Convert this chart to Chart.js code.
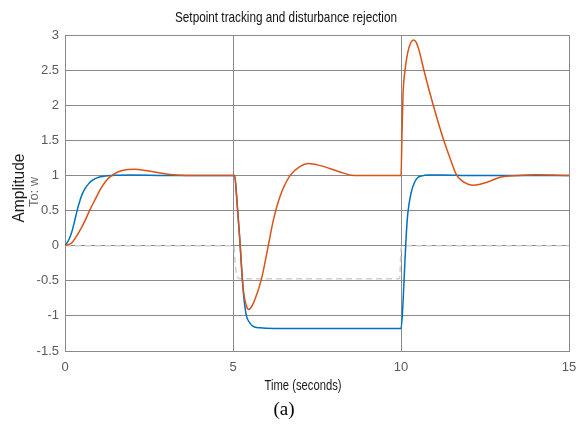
<!DOCTYPE html>
<html>
<head>
<meta charset="utf-8">
<script src="https://cdn.jsdelivr.net/npm/chart.js@4.4.1/dist/chart.umd.min.js"></script>
<style>
  html, body { margin: 0; padding: 0; background: #fff; }
  #wrap { width: 578px; height: 425px; position: relative; }
</style>
</head>
<body>
<div id="wrap"><canvas id="c" width="578" height="425"></canvas></div>
<script>
// ---- Data ----
const chartTitle = "Setpoint tracking and disturbance rejection";
const xLabel = "Time (seconds)";
const yLabel = "Amplitude";
const yLabelSub = "To: w";
const figLabel = "(a)";

const xTicks = [0, 5, 10, 15];
const yTicks = [-1.5, -1, -0.5, 0, 0.5, 1, 1.5, 2, 2.5, 3];

// Blue response
const blueT = [0, 0.1, 0.2, 0.3, 0.4, 0.5, 0.6, 0.7, 0.8, 0.9, 1.0, 1.15, 1.4, 2.0, 3.0, 5.05,
               5.1, 5.2, 5.3, 5.35, 5.4, 5.5, 5.6, 5.8, 6.2, 10.0,
               10.05, 10.1, 10.15, 10.2, 10.3, 10.4, 10.5, 10.6, 10.8, 11.2, 12.0, 15.0];
const blueY = [0, 0.07, 0.19, 0.38, 0.57, 0.72, 0.815, 0.88, 0.925, 0.955, 0.975, 0.99, 1.0, 1.005, 1.0, 1.0,
               0.75, 0.1, -0.62, -0.85, -1.0, -1.1, -1.15, -1.17, -1.18, -1.18,
               -0.9, -0.4, 0.1, 0.45, 0.75, 0.9, 0.97, 0.99, 1.005, 1.005, 1.0, 1.0];

// Orange response
const orangeT = [0, 0.2, 0.45, 0.6, 0.74, 0.9, 1.04, 1.2, 1.34, 1.45, 1.7, 2.08, 2.4, 2.83, 3.3, 3.6, 5.05,
                 5.1, 5.2, 5.3, 5.4, 5.47, 5.55, 5.65, 5.85, 6.05, 6.2, 6.4, 6.7, 7.0, 7.24, 7.6, 8.18, 8.6, 10.0,
                 10.03, 10.06, 10.12, 10.2, 10.3, 10.37, 10.45, 10.55, 10.67, 10.96, 11.26, 11.45, 11.64, 11.8, 12.0, 12.15,
                 12.35, 12.6, 12.95, 13.5, 14.0, 15.0];
const orangeY = [0, 0.04, 0.22, 0.36, 0.51, 0.66, 0.79, 0.91, 0.98, 1.02, 1.07, 1.087, 1.07, 1.035, 1.005, 1.0, 1.0,
                 0.75, 0.1, -0.6, -0.86, -0.91, -0.87, -0.77, -0.47, 0.0, 0.36, 0.7, 1.0, 1.13, 1.17, 1.14, 1.05, 1.0, 1.0,
                 1.6, 2.15, 2.5, 2.75, 2.9, 2.93, 2.9, 2.76, 2.52, 2.0, 1.52, 1.26, 1.02, 0.93, 0.875, 0.862,
                 0.875, 0.91, 0.975, 1.0, 1.01, 1.0];

// Light grey dashed reference
const refT = [0, 5.03, 5.06, 5.1, 5.2, 9.95, 9.98, 10.0, 10.05, 15.0];
const refY = [0, 0, -0.2, -0.4, -0.47, -0.47, -0.3, -0.05, 0, 0];

const toPts = (ts, ys) => ts.map((t, i) => ({ x: t, y: ys[i] }));

const SANS = '"Liberation Sans", Arial, sans-serif';

function fitText(ctx, text, cx, cy, targetW) {
  const w = ctx.measureText(text).width;
  const s = targetW / w;
  ctx.save();
  ctx.translate(cx, cy);
  ctx.scale(s, 1);
  ctx.fillText(text, 0, 0);
  ctx.restore();
}

const textPlugin = {
  id: 'extraText',
  afterDraw(chart) {
    const ctx = chart.ctx;
    ctx.save();
    ctx.textAlign = 'center';
    ctx.textBaseline = 'middle';
    // title
    ctx.fillStyle = '#111';
    ctx.font = '15px ' + SANS;
    fitText(ctx, chartTitle, 286, 18, 222);
    // x label
    ctx.fillStyle = '#1a1a1a';
    ctx.font = '15px ' + SANS;
    fitText(ctx, xLabel, 303, 386, 77);
    // figure label
    ctx.fillStyle = '#000';
    ctx.font = '19px "Liberation Serif", "DejaVu Serif", serif';
    ctx.fillText(figLabel, 284, 410);
    ctx.restore();

    // y labels
    ctx.save();
    ctx.translate(20, 188);
    ctx.rotate(-Math.PI / 2);
    ctx.textAlign = 'center';
    ctx.textBaseline = 'middle';
    ctx.fillStyle = '#1a1a1a';
    ctx.font = '16px ' + SANS;
    fitText(ctx, yLabel, 0, 0, 69);
    ctx.fillStyle = '#666';
    ctx.font = '12px ' + SANS;
    fitText(ctx, yLabelSub, -4, 15, 30);
    ctx.restore();
  }
};

new Chart(document.getElementById('c'), {
  type: 'line',
  data: {
    datasets: [
      { label: 'orange', data: toPts(orangeT, orangeY), borderColor: '#D95319', borderWidth: 1.5,
        pointRadius: 0, cubicInterpolationMode: 'monotone', fill: false, order: 0 },
      { label: 'blue', data: toPts(blueT, blueY), borderColor: '#0072BD', borderWidth: 1.5,
        pointRadius: 0, cubicInterpolationMode: 'monotone', fill: false, order: 1 },
      { label: 'ref', data: toPts(refT, refY), borderColor: '#cfcfcf', borderWidth: 1.5, borderDash: [6, 4],
        pointRadius: 0, cubicInterpolationMode: 'monotone', fill: false, order: 2 }
    ]
  },
  options: {
    responsive: false,
    animation: false,
    events: [],
    layout: { padding: { left: 0, right: 9, top: 35, bottom: 0 } },
    plugins: {
      legend: { display: false },
      tooltip: { enabled: false },
      title: { display: false }
    },
    scales: {
      x: {
        type: 'linear', min: 0, max: 15,
        afterBuildTicks: (s) => { s.ticks = xTicks.map(v => ({ value: v })); },
        afterFit: (s) => { s.height = 74; s.paddingLeft = 0; s.paddingRight = 0; },
        grid: { color: '#8a8a8a', lineWidth: 1, drawTicks: false },
        border: { color: '#8a8a8a' },
        ticks: { color: '#5a5a5a', padding: 9, maxRotation: 0, font: { family: SANS, size: 13 },
                 callback: (v) => String(v) }
      },
      y: {
        type: 'linear', min: -1.5, max: 3,
        afterBuildTicks: (s) => { s.ticks = yTicks.map(v => ({ value: v })); },
        afterFit: (s) => { s.width = 65; s.paddingTop = 0; s.paddingBottom = 0; },
        grid: { color: '#8a8a8a', lineWidth: 1, drawTicks: false },
        border: { color: '#8a8a8a' },
        ticks: { color: '#5a5a5a', padding: 6, font: { family: SANS, size: 13 },
                 callback: (v) => String(v) }
      }
    }
  },
  plugins: [textPlugin]
});
</script>
</body>
</html>
